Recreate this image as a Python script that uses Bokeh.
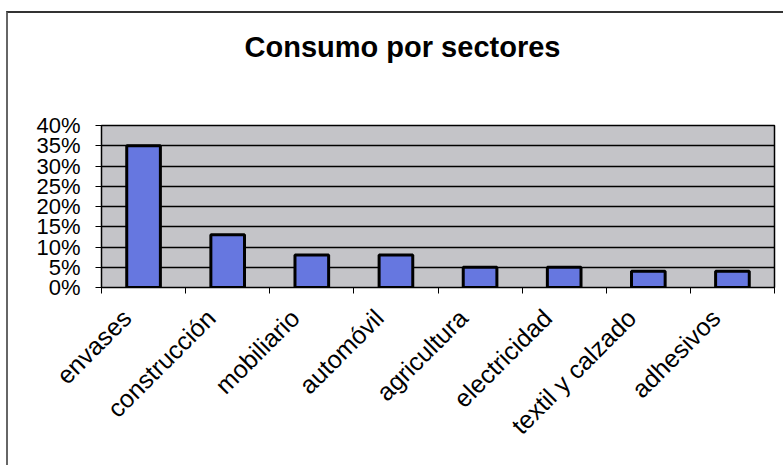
import math
from bokeh.plotting import figure
from bokeh.layouts import column
from bokeh.models import FixedTicker, NumeralTickFormatter, Range1d, ColumnDataSource, Div
from bokeh.embed import file_html
from bokeh.resources import INLINE

# Data
titulo = "Consumo por sectores"
sectores = ["envases", "construcción", "mobiliario", "automóvil",
            "agricultura", "electricidad", "textil y calzado", "adhesivos"]
consumo = [0.35, 0.13, 0.08, 0.08, 0.05, 0.05, 0.04, 0.04]
y_ticks = [0.0, 0.05, 0.10, 0.15, 0.20, 0.25, 0.30, 0.35, 0.40]

n = len(sectores)
centers = [i + 0.5 for i in range(n)]
bounds = list(range(n + 1))
label_shift = 0.2  # rotated labels end slightly left of the bar centre
label_pos = [c - label_shift for c in centers]

src = ColumnDataSource(dict(x=centers, top=consumo, name=sectores))

title_div = Div(text=titulo, width=775, height=58,
                styles={"font-family": "Liberation Sans", "font-size": "29px",
                        "font-weight": "bold", "color": "black",
                        "text-align": "center", "line-height": "58px",
                        "width": "775px", "padding-left": "4px",
                        "box-sizing": "border-box"})

p = figure(width=775, height=394, output_backend="svg", toolbar_location=None,
           x_range=Range1d(0, n), y_range=Range1d(0, 0.40),
           min_border_left=93, min_border_right=9, min_border_top=44, min_border_bottom=188)

p.background_fill_color = "#c4c4c8"
p.border_fill_color = "white"
p.outline_line_color = "black"
p.outline_line_width = 1.5

p.vbar(x="x", top="top", width=0.4, bottom=0, source=src,
       fill_color="#6677e0", line_color="black", line_width=3)

# y axis
p.yaxis.ticker = FixedTicker(ticks=y_ticks)
p.yaxis.formatter = NumeralTickFormatter(format="0%")
p.yaxis.major_label_text_font = "Liberation Sans"
p.yaxis.major_label_text_font_size = "22px"
p.yaxis.major_label_text_color = "black"
p.yaxis.major_tick_out = 6
p.yaxis.major_tick_in = 0
p.yaxis.minor_tick_line_color = None
p.yaxis.axis_line_color = "black"
p.yaxis.major_label_standoff = 15

# x axis: labels near centres, ticks at category boundaries
p.xaxis.ticker = FixedTicker(ticks=label_pos, minor_ticks=bounds)
p.xaxis.major_label_overrides = {c: s for c, s in zip(label_pos, sectores)}
p.xaxis.major_tick_out = 0
p.xaxis.major_tick_in = 0
p.xaxis.minor_tick_out = 6
p.xaxis.minor_tick_in = 0
p.xaxis.minor_tick_line_color = "black"
p.xaxis.axis_line_color = "black"
p.xaxis.major_label_orientation = math.pi / 4
p.xaxis.major_label_text_font = "Liberation Sans"
p.xaxis.major_label_text_font_size = "25px"
p.xaxis.major_label_text_color = "black"
p.xaxis.major_label_standoff = 20

p.xgrid.grid_line_color = None
p.ygrid.ticker = FixedTicker(ticks=y_ticks)
p.ygrid.grid_line_color = "black"
p.ygrid.grid_line_width = 1.5

layout = column(title_div, p, spacing=0,
                styles={"border-top": "2px solid #333333", "border-left": "2px solid #666666",
                        "margin-left": "6px", "margin-top": "11px", "background-color": "white"})

open("out.html", "w").write(file_html(layout, INLINE))
